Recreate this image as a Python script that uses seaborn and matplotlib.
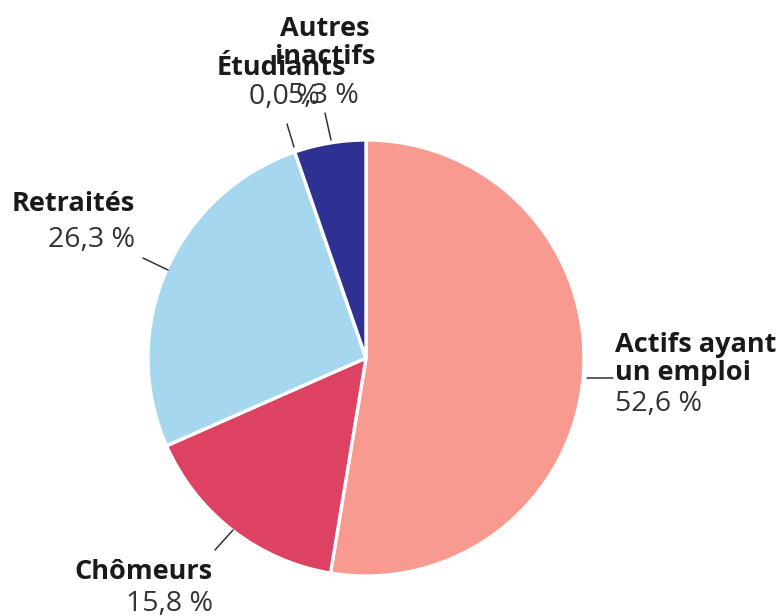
import matplotlib.pyplot as plt
import seaborn as sns

# Répartition de la population par statut
categories = ["Actifs ayant\nun emploi", "Chômeurs", "Retraités", "Étudiants", "Autres\ninactifs"]
valeurs = [52.6, 15.8, 26.3, 0.0, 5.3]
etiquettes = ["52,6 %", "15,8 %", "26,3 %", "0,0 %", "5,3 %"]
couleurs = ["#F89A8F", "#DD4262", "#A5D8EE", "#A5D8EE", "#2F3192"]

sns.set_theme(style="white")
plt.rcParams["font.family"] = ["Open Sans", "DejaVu Sans"]

W, H = 782, 616
cx, cy, r = 366, 358, 218

fig = plt.figure(figsize=(W / 100, H / 100), dpi=100)
ax = fig.add_axes([0, 0, 1, 1])

ax.pie(valeurs, colors=couleurs, startangle=90, counterclock=False,
       wedgeprops=dict(edgecolor="white", linewidth=2.4))

# la fonction pie impose ses propres limites : on les remet ensuite
ax.set_xlim(-cx / r, (W - cx) / r)
ax.set_ylim(-(H - cy) / r, cy / r)
ax.set_aspect("equal")
ax.axis("off")


def px(x, y):
    return (x - cx) / r, (cy - y) / r


# position du nom, position du pourcentage, alignement, ligne de rappel
placement = [
    ((615, 359), (615, 404), "left", ((587, 378), (613, 378))),
    ((213, 572), (213, 604), "right", ((215, 550), (233, 530))),
    ((135, 204), (135, 240), "right", ((143, 258), (168, 270))),
    ((281, 68), (284, 97), "center", ((287, 124), (294, 147))),
    ((325, 43), (323, 96), "center", ((325, 113), (331, 140))),
]

for cat, lab, (pn, pp, ha, ligne) in zip(categories, etiquettes, placement):
    ax.text(*px(*pn), cat, ha=ha, va="center", fontsize=19.5, fontweight="bold",
            color="#1a1a1a", linespacing=1.12)
    ax.text(*px(*pp), lab, ha=ha, va="center", fontsize=20.5, color="#333333")
    (x0, y0), (x1, y1) = ligne
    a, b = px(x0, y0), px(x1, y1)
    ax.plot([a[0], b[0]], [a[1], b[1]], color="#333333", linewidth=1.1)

fig.savefig("out.png", dpi=100)
